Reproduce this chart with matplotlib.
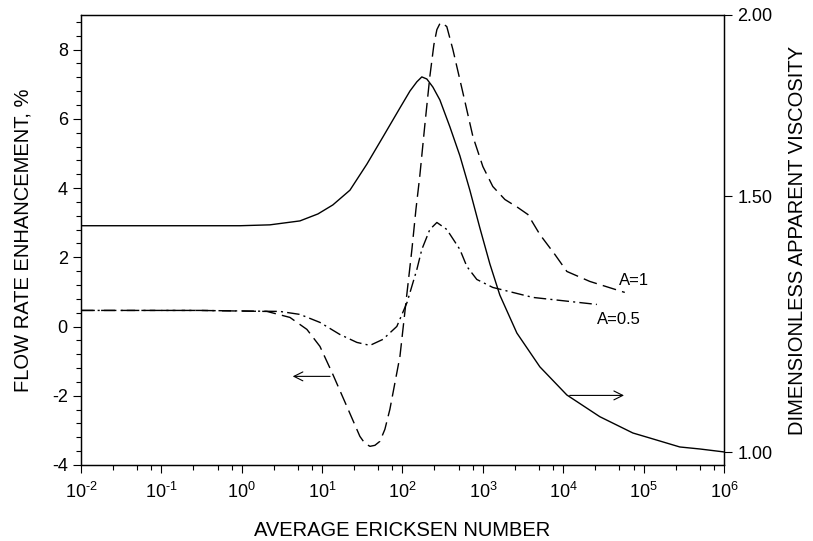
import matplotlib
matplotlib.use("Agg")
import matplotlib.pyplot as plt
from matplotlib.ticker import (MultipleLocator, LogLocator, FixedLocator, FixedFormatter,
                               NullLocator, NullFormatter, FuncFormatter)
import math

plt.rcParams['font.family'] = ['Liberation Sans', 'DejaVu Sans']
plt.rcParams['axes.unicode_minus'] = False
plt.rcParams['mathtext.fontset'] = 'custom'
plt.rcParams['mathtext.rm'] = 'Liberation Sans'
plt.rcParams['mathtext.default'] = 'regular'

# Solid curve: dimensionless apparent viscosity (right axis)
visc_x = [0.01, 0.95, 2.24, 5.3, 8.87, 13.6, 22.2, 36.1, 57.0, 93, 124, 151, 174, 201, 239,
          292, 389, 518, 689, 918, 1222, 1626, 2650, 5120, 11100, 28500, 73500, 119000,
          282000, 500000, 1e6]
visc_y = [1.432, 1.432, 1.434, 1.443, 1.459, 1.480, 1.515, 1.579, 1.648, 1.726, 1.773, 1.799,
          1.813, 1.807, 1.784, 1.748, 1.675, 1.600, 1.515, 1.427, 1.348, 1.283, 1.208, 1.145,
          1.095, 1.058, 1.031, 1.0229, 1.0084, 1.0052, 1.0005]

# Dashed curve: flow rate enhancement, A=1 (left axis)
a1_x = [0.01, 0.30, 2.06, 3.98, 6.47, 9.4, 13.6, 20.3, 29.5, 34.0, 39.4, 45.4, 52.4, 60.4,
        69.7, 93, 114, 131, 147, 164, 190, 219, 246, 268, 292, 309, 356, 424, 564, 752,
        1000, 1330, 1880, 2720, 3630, 5120, 7870, 11100, 21400, 58300]
a1_y = [0.465, 0.465, 0.436, 0.263, -0.083, -0.574, -1.382, -2.306, -3.172, -3.374, -3.461,
        -3.432, -3.316, -2.970, -2.393, -0.863, 0.985, 2.226, 3.381, 4.334, 5.835, 7.221,
        8.144, 8.577, 8.751, 8.779, 8.664, 8.0, 6.759, 5.488, 4.622, 4.045, 3.670, 3.439,
        3.237, 2.659, 2.082, 1.591, 1.303, 0.985]

# Dash-dot curve: flow rate enhancement, A=0.5 (left axis)
a05_x = [0.01, 0.30, 2.99, 5.3, 9.4, 16.6, 27.1, 39.4, 57.0, 85.1, 114, 151, 174, 219,
         268, 356, 518, 632, 841, 1330, 4190, 26200]
a05_y = [0.465, 0.465, 0.436, 0.350, 0.119, -0.228, -0.459, -0.545, -0.372, 0.003,
         0.696, 1.649, 2.226, 2.804, 3.006, 2.804, 2.226, 1.736, 1.360, 1.129, 0.841, 0.638]

x_ticks = [1e-2, 1e-1, 1e0, 1e1, 1e2, 1e3, 1e4, 1e5, 1e6]
left_ticks = [-4, -2, 0, 2, 4, 6, 8]
right_ticks = [1.00, 1.50, 2.00]
right_labels = ['1.00', '1.50', '2.00']

fig = plt.figure(figsize=(8.13, 5.41), dpi=100)
ax = fig.add_axes([0.0996, 0.1405, 0.7909, 0.8318])
ax2 = ax.twinx()

ax.plot(a1_x, a1_y, color='black', lw=1.0, dashes=(10, 4.5))
ax.plot(a05_x, a05_y, color='black', lw=1.0, dashes=(9, 3, 1.5, 3))
ax2.plot(visc_x, visc_y, color='black', lw=1.0)

ax.set_xscale('log')
ax.set_xlim(1e-2, 1e6)
ax.set_ylim(-4, 9)
ax2.set_yscale('log')
ax2.set_ylim(0.980, 2.0)


def pow_fmt(v, pos):
    e = int(round(math.log10(v)))
    return r'$10^{\text{%d}}$' % e


ax.xaxis.set_major_locator(FixedLocator(x_ticks))
ax.xaxis.set_major_formatter(FuncFormatter(pow_fmt))
ax.xaxis.set_minor_locator(LogLocator(base=10, subs=[2.5, 5.0, 7.5], numticks=20))
ax.xaxis.set_minor_formatter(NullFormatter())
ax.yaxis.set_major_locator(FixedLocator(left_ticks))
ax.yaxis.set_minor_locator(MultipleLocator(0.4))
ax2.yaxis.set_major_locator(FixedLocator(right_ticks))
ax2.yaxis.set_major_formatter(FixedFormatter(right_labels))
ax2.yaxis.set_minor_locator(NullLocator())
ax2.yaxis.set_minor_formatter(NullFormatter())

for a in (ax, ax2):
    a.tick_params(which='major', direction='out', length=6, width=0.8, labelsize=13, colors='black')
    a.tick_params(which='minor', direction='out', length=3.5, width=0.8)
    for s in a.spines.values():
        s.set_linewidth(0.9)
ax.tick_params(axis='x', pad=6)

ax.set_xlabel('AVERAGE ERICKSEN NUMBER', fontsize=14.5)
ax.set_ylabel('FLOW RATE ENHANCEMENT, %', fontsize=14.5)
ax2.set_ylabel('DIMENSIONLESS APPARENT VISCOSITY', fontsize=14.5)
ax.xaxis.set_label_coords(0.5, -0.125)
ax.yaxis.set_label_coords(-0.075, 0.5)
ax2.yaxis.set_label_coords(1.10, 0.5)

ax.annotate('', xy=(3.98, -1.44), xytext=(13.6, -1.44),
            arrowprops=dict(arrowstyle='->', color='black', lw=0.8, mutation_scale=16))
ax.annotate('', xy=(61800, -1.99), xytext=(11100, -1.99),
            arrowprops=dict(arrowstyle='->', color='black', lw=0.8, mutation_scale=16))

ax.text(49200, 1.331, 'A=1', fontsize=12, va='center', ha='left')
ax.text(26200, 0.205, 'A=0.5', fontsize=12, va='center', ha='left')

fig.savefig('out.png', dpi=100)
